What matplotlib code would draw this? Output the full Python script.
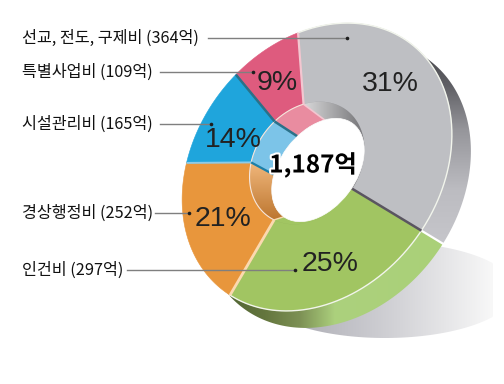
import numpy as np
import matplotlib
matplotlib.use("Agg")
import matplotlib.pyplot as plt
from matplotlib.patches import Polygon, Ellipse
import matplotlib.patheffects as pe

# ---- data (top-to-bottom label order) ----
categories = ["선교, 전도, 구제비", "특별사업비", "시설관리비", "경상행정비", "인건비"]
amounts = [364, 109, 165, 252, 297]
percents = [31, 9, 14, 21, 25]
total_label = "1,187억"

# ---- styles ----
face_colors = ["#BEBFC3", "#DE5B7E", "#1FA5DC", "#E8963C", "#A1C562"]
wall_colors = ["#B8B8BB", "#E98CA0", "#7CC4E8", "#E8A868", "#A1C562"]
label_y = [38, 72, 124, 213, 270]
line_x0 = [208, 160, 160, 155, 127]
dot_x = [347, 253, 211, 189, 295]
pct_xy = [(390, 84), (277, 83), (233, 140), (223, 219), (330, 264)]

W, H = 504, 384
fig = plt.figure(figsize=(W / 100, H / 100), dpi=100)
ax = fig.add_axes([0, 0, 1, 1])
ax.set_xlim(0, W)
ax.set_ylim(H, 0)
ax.axis("off")

FOCAL = np.array([308.0, 162.0])
TILT_DEG = 53
TILT = np.radians(TILT_DEG)
U = np.array([np.cos(TILT), -np.sin(TILT)])
V = np.array([np.sin(TILT), np.cos(TILT)])
OUTER = ((317, 167), 155, 122)
WALL = ((307, 163), 66, 52)
HOLE = ((318, 170), 58, 38)
SIDE = ((336, 184), 155, 122)
VIEW_START = 94.4
KNOTS_T = [0, 40, 90, 160, 250, 360]
KNOTS_D = [0, 2.5, 3, -14.4, -15.2, 0]


def view(t):
    return VIEW_START + t + np.interp(t, KNOTS_T, KNOTS_D)


def ray(ang, ell):
    c, a, b = ell
    ang = np.radians(np.atleast_1d(ang))
    d = np.stack([np.cos(ang), -np.sin(ang)], 1)
    p = FOCAL - np.array(c, float)
    pu, pv = p @ U, p @ V
    du, dv = d @ U, d @ V
    A = (du / a) ** 2 + (dv / b) ** 2
    B = 2 * (pu * du / a ** 2 + pv * dv / b ** 2)
    C = (pu / a) ** 2 + (pv / b) ** 2 - 1
    r = (-B + np.sqrt(B ** 2 - 4 * A * C)) / (2 * A)
    return FOCAL + d * r[:, None]


def ell_points(ell, n=360):
    c, a, b = ell
    s = np.linspace(0, 2 * np.pi, n)
    return np.array(c) + np.outer(a * np.cos(s), U) + np.outer(b * np.sin(s), V)


def grad_fill(poly, rgb_func, z):
    yy, xx = np.mgrid[0:H, 0:W]
    img = rgb_func(xx + 0.5, yy + 0.5)
    im = ax.imshow(img, extent=(0, W, H, 0), zorder=z, aspect="auto", interpolation="bilinear")
    patch = Polygon(poly, closed=True, transform=ax.transData, fc="none", ec="none")
    ax.add_patch(patch)
    im.set_clip_path(patch)


def stack(*ch):
    return np.clip(np.stack(ch, -1), 0, 255) / 255


# cumulative angles: counter-clockwise beginning at the pink/grey boundary
order = [1, 2, 3, 4, 0]
vals = np.array([amounts[i] for i in order], float)
cum = np.concatenate([[0], np.cumsum(vals)]) / vals.sum() * 360
bounds = view(cum)
twist = [-26, -17, 20, 6.5, 0, -26]

# shadow
sx = np.linspace(0, 2 * np.pi, 200)
shadow = np.stack([385 + 130 * np.cos(sx), 290 + 48 * np.sin(sx)], 1)
shadow[:, 0] = np.minimum(shadow[:, 0], 493)
grad_fill(shadow,
          lambda x, y: stack(np.interp(x, [290, 400, 493], [172, 212, 248]),
                             np.interp(x, [290, 400, 493], [172, 212, 248]),
                             np.interp(x, [290, 400, 493], [180, 216, 248])), 1)

# rim (side wall)
g_lo, g_hi = bounds[3], bounds[4]


def side_rgb(x, y):
    ang = np.degrees(np.arctan2(FOCAL[1] - y, x - FOCAL[0])) % 360
    is_green = (ang >= g_lo) & (ang <= g_hi)
    gv = np.interp(y, [45, 85, 130, 190, 245], [70, 95, 150, 188, 198])
    xs = [235, 265, 300, 335, 440]
    r = np.where(is_green, np.interp(x, xs, [85, 100, 125, 172, 170]), gv)
    g = np.where(is_green, np.interp(x, xs, [105, 118, 145, 208, 208]), gv)
    b = np.where(is_green, np.interp(x, xs, [55, 62, 85, 125, 120]), gv + 5)
    return stack(r, g, b)


grad_fill(ell_points(SIDE), side_rgb, 2)
edge = np.vstack([ray(g_hi, OUTER), ray(g_hi, SIDE)])
ax.plot(edge[:, 0], edge[:, 1], color="white", lw=1.6, zorder=2.5)

# faces
for k, idx in enumerate(order):
    a = np.linspace(bounds[k], bounds[k + 1], 160)
    o = ray(a, OUTER)
    w = ray(a[::-1], WALL)
    ax.add_patch(Polygon(np.vstack([o, w]), closed=True, fc=face_colors[idx], ec=face_colors[idx],
                         lw=0.4, zorder=3))
    if idx in (0, 4):
        ax.plot(o[:, 0], o[:, 1], color="#F2F5EC", lw=1.0, zorder=3.2)

# inner walls
for k, idx in enumerate(order):
    a = np.linspace(bounds[k], bounds[k + 1], 120)
    h = np.linspace(bounds[k] + twist[k], bounds[k + 1] + twist[k + 1], 120)
    poly = np.vstack([ray(a, WALL), ray(h[::-1], HOLE)])
    if idx == 3:
        grad_fill(poly, lambda x, y: stack(np.interp(y, [165, 218], [238, 190]),
                                           np.interp(y, [165, 218], [180, 120]),
                                           np.interp(y, [165, 218], [120, 50])), 4)
    elif idx == 0:
        grad_fill(poly, lambda x, y: stack(np.interp(x, [305, 358], [215, 125]),
                                           np.interp(x, [305, 358], [215, 125]),
                                           np.interp(x, [305, 358], [216, 128])), 4)
    else:
        ax.add_patch(Polygon(poly, closed=True, fc=wall_colors[idx], ec=wall_colors[idx], lw=0.4, zorder=4))
    if idx in (1, 2, 3):
        arc = ray(a, WALL)
        ax.plot(arc[:, 0], arc[:, 1], color="#F6E6DC", lw=0.8, zorder=4.2)

# separators between slices: face part, wall part
sep_face = [("#F3C6D0", 1.6), ("#2A7189", 1.8), ("#8CCBE8", 1.4), ("#FBD9B0", 2.0), ("#5A5560", 1.8)]
sep_wall = [("#F3C6D0", 1.2), ("#2A7189", 1.8), ("#1C7FA8", 1.6), ("#FBD9B0", 1.0), ("#5A5560", 1.8)]
for k in range(5):
    p = np.vstack([ray(bounds[k], OUTER), ray(bounds[k], WALL)])
    ax.plot(p[:, 0], p[:, 1], color=sep_face[k][0], lw=sep_face[k][1], zorder=4.5, solid_capstyle="butt")
    q = np.vstack([ray(bounds[k], WALL), ray(bounds[k] + twist[k], HOLE)])
    ax.plot(q[:, 0], q[:, 1], color=sep_wall[k][0], lw=sep_wall[k][1], zorder=4.5, solid_capstyle="butt")

# hole
c, a_, b_ = HOLE
ax.add_patch(Ellipse(c, 2 * a_, 2 * b_, angle=-TILT_DEG, fc="white", ec="white", lw=0.5, zorder=5))

# leaders, labels, percentages
KR = ["Noto Sans CJK KR", "DejaVu Sans"]
for i, cat in enumerate(categories):
    ax.plot([line_x0[i], dot_x[i]], [label_y[i]] * 2, color="#7F7F7F", lw=1.0, zorder=6)
    ax.plot([dot_x[i]], [label_y[i]], "o", color="#1E1E1E", ms=2.6, mew=0, zorder=6.1)
    ax.text(22, label_y[i], f"{cat} ({amounts[i]}억)", family=KR, fontsize=11.7, color="#111111",
            ha="left", va="center", zorder=7)
    ax.text(*pct_xy[i], f"{percents[i]}%", family="Liberation Sans", fontsize=20.5, color="#222222",
            ha="center", va="center", zorder=7)

ax.text(313, 165, total_label, family=KR, fontsize=17.5, fontweight="bold", color="black",
        ha="center", va="center", zorder=8,
        path_effects=[pe.withStroke(linewidth=3, foreground="white")])

ax.set_xlim(0, W)
ax.set_ylim(H, 0)
fig.savefig("out.png", dpi=100, facecolor="white")
